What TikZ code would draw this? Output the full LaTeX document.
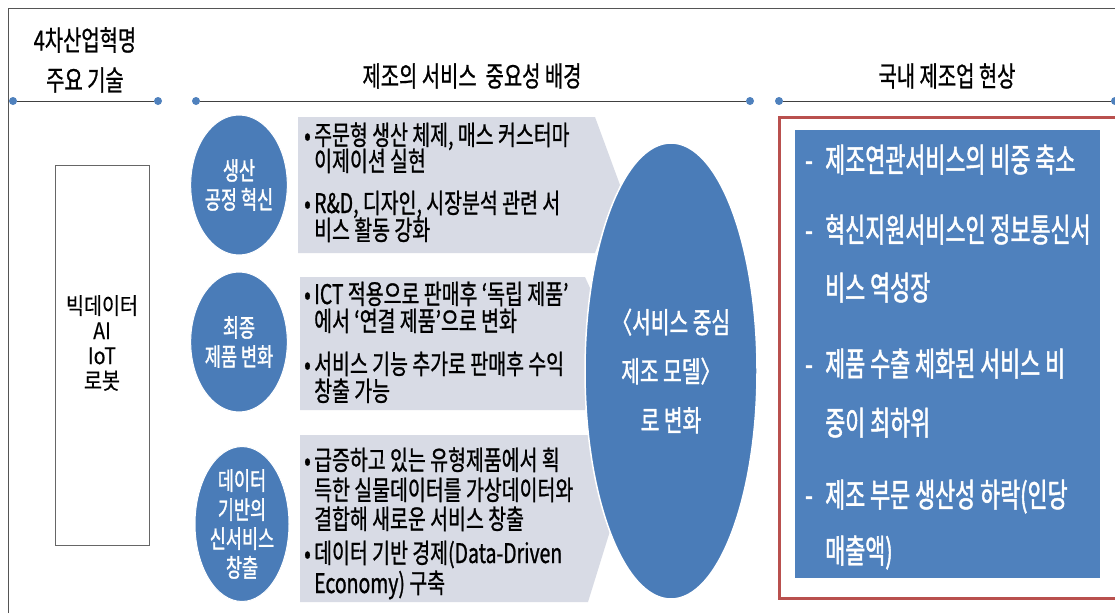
\documentclass[tikz,border=0pt]{standalone}
\usepackage{fontspec}
\setmainfont{Noto Sans CJK KR}
\newfontfamily\krH[FakeStretch=0.71,FakeBold=0.8]{Noto Sans CJK KR}
\newfontfamily\krA[FakeStretch=0.72,FakeBold=0.9]{Noto Sans CJK KR}
\newfontfamily\krW[FakeStretch=0.70,FakeBold=1.2]{Noto Sans CJK KR}
\newfontfamily\krB[FakeStretch=0.66,FakeBold=1.4]{Noto Sans CJK KR}
\newfontfamily\krC[FakeStretch=0.85,FakeBold=0.4]{Noto Sans CJK KR}
\usetikzlibrary{shapes.geometric}
\definecolor{ublue}{HTML}{4F81BD}
\definecolor{cblue}{HTML}{4A7CB8}
\definecolor{bandgray}{HTML}{D8DBE5}
\definecolor{redb}{HTML}{B9504E}
\definecolor{framegray}{HTML}{555555}
\definecolor{linegray}{HTML}{404040}
\tikzset{
  sectline/.style={draw=linegray, line width=0.8pt},
  sdot/.style={circle, fill=ublue, inner sep=0pt, minimum size=8pt},
  head/.style={font=\fontsize{28}{32}\selectfont\krH, inner sep=0pt},
  circ/.style={ellipse, fill=cblue, draw=white, line width=1pt, inner sep=0pt,
    minimum width=88pt, minimum height=140pt, text=white, align=center,
    font=\fontsize{25}{29}\selectfont\krW},
  btxt/.style={anchor=west, inner sep=0pt, text height=20pt, text depth=4pt,
    font=\fontsize{27}{30}\selectfont\krA},
  rtxt/.style={anchor=west, inner sep=0pt, text height=25pt, text depth=5pt,
    text=white, font=\fontsize{33}{36}\selectfont\krB},
}
\begin{document}
\begin{tikzpicture}[x=1pt,y=-1pt]
\useasboundingbox (0,0) rectangle (1115,613);
\clip (0,0) rectangle (1115,613);
\fill[white] (0,0) rectangle (1115,613);
% outer frame
\draw[framegray, line width=1pt] (8,613) -- (8,8) -- (1115,8);
% headers
\node[head] (h1a) at (85,40) {4차산업혁명};
\node[head] (h1b) at (85,80) {주요 기술};
\node[head] (h2) at (472,76) {제조의 서비스~~중요성 배경};
\node[head] (h3) at (947,76) {국내 제조업 현상};
% section lines
\node[sdot] (l1a) at (13,101) {};
\node[sdot] (l1b) at (158,101) {};
\draw[sectline] (l1a) -- (l1b);
\node[sdot] (l2a) at (196,101) {};
\node[sdot] (l2b) at (750,101) {};
\draw[sectline] (l2a) -- (l2b);
\node[sdot] (l3a) at (779,101) {};
\node[sdot] (l3b) at (1115,101) {};
\draw[sectline] (l3a) -- (l3b);
% left box
\node[draw=black!60, line width=0.6pt, minimum width=94pt, minimum height=380pt, inner sep=0pt] (tech) at (102,355) {};
\node[align=center, inner sep=0pt, font=\fontsize{23}{25}\selectfont\krC] (techtxt) at (102,343) {빅데이터\\AI\\IoT\\로봇};
% bands
\fill[bandgray] (298,117) -- (595,117) -- (620,185) -- (595,253) -- (298,253) -- cycle;
\fill[bandgray] (300,277) -- (585,277) -- (615,343) -- (585,410) -- (300,410) -- cycle;
\fill[bandgray] (300,435) -- (588,435) -- (614,518) -- (588,602) -- (300,602) -- cycle;
% big ellipse
\node[ellipse, fill=cblue, draw=white, line width=1.5pt, inner sep=0pt,
  minimum width=172pt, minimum height=456pt, text=white, align=center,
  font=\fontsize{29}{49}\selectfont\krW] (model) at (671,371) {〈서비스 중심\\제조 모델〉\\로 변화};
% circles
\node[circ] (c1) at (239,185) {생산\\공정 혁신};
\node[circ] (c2) at (239,342) {최종\\제품 변화};
\node[circ, minimum width=94pt, minimum height=150pt] (c3) at (242,524) {데이터\\기반의\\신서비스\\창출};
% band 1 text
\node[btxt] (b1a) at (304,137) {•};
\node[btxt] (b1b) at (314,137) {주문형 생산 체제, 매스 커스터마};
\node[btxt] (b1c) at (314,163) {이제이션 실현};
\node[btxt] (b1d) at (304,205) {•};
\node[btxt] (b1e) at (314,205) {R\&D, 디자인, 시장분석 관련 서};
\node[btxt] (b1f) at (314,232) {비스 활동 강화};
% band 2 text
\node[btxt] (b2a) at (304,296) {•};
\node[btxt] (b2b) at (314,296) {ICT 적용으로 판매후 ‘독립 제품’};
\node[btxt] (b2c) at (314,323) {에서 ‘연결 제품’으로 변화};
\node[btxt] (b2d) at (304,366) {•};
\node[btxt] (b2e) at (314,366) {서비스 기능 추가로 판매후 수익};
\node[btxt] (b2f) at (314,393) {창출 가능};
% band 3 text
\node[btxt] (b3a) at (304,462) {•};
\node[btxt] (b3b) at (314,462) {급증하고 있는 유형제품에서 획};
\node[btxt] (b3c) at (314,492) {득한 실물데이터를 가상데이터와};
\node[btxt] (b3d) at (314,521) {결합해 새로운 서비스 창출};
\node[btxt] (b3e) at (304,555) {•};
\node[btxt] (b3f) at (314,555) {데이터 기반 경제(Data-Driven};
\node[btxt] (b3g) at (314,585) {Economy) 구축};
% right panel
\draw[redb, line width=3pt, fill=white] (779,117) rectangle (1125,598);
\node[fill=ublue, minimum width=305pt, minimum height=448pt, inner sep=0pt, anchor=north west] (panel) at (795,130) {};
\node[rtxt] (r1a) at (805,162) {-};
\node[rtxt] (r1b) at (825,162) {제조연관서비스의 비중 축소};
\node[rtxt] (r2a) at (805,232) {-};
\node[rtxt] (r2b) at (825,232) {혁신지원서비스인 정보통신서};
\node[rtxt] (r2c) at (825,290) {비스 역성장};
\node[rtxt] (r3a) at (805,366) {-};
\node[rtxt] (r3b) at (825,366) {제품 수출 체화된 서비스 비};
\node[rtxt] (r3c) at (825,425) {중이 최하위};
\node[rtxt] (r4a) at (805,497) {-};
\node[rtxt] (r4b) at (825,497) {제조 부문 생산성 하락(인당};
\node[rtxt] (r4c) at (825,553) {매출액)};
\end{tikzpicture}
\end{document}
